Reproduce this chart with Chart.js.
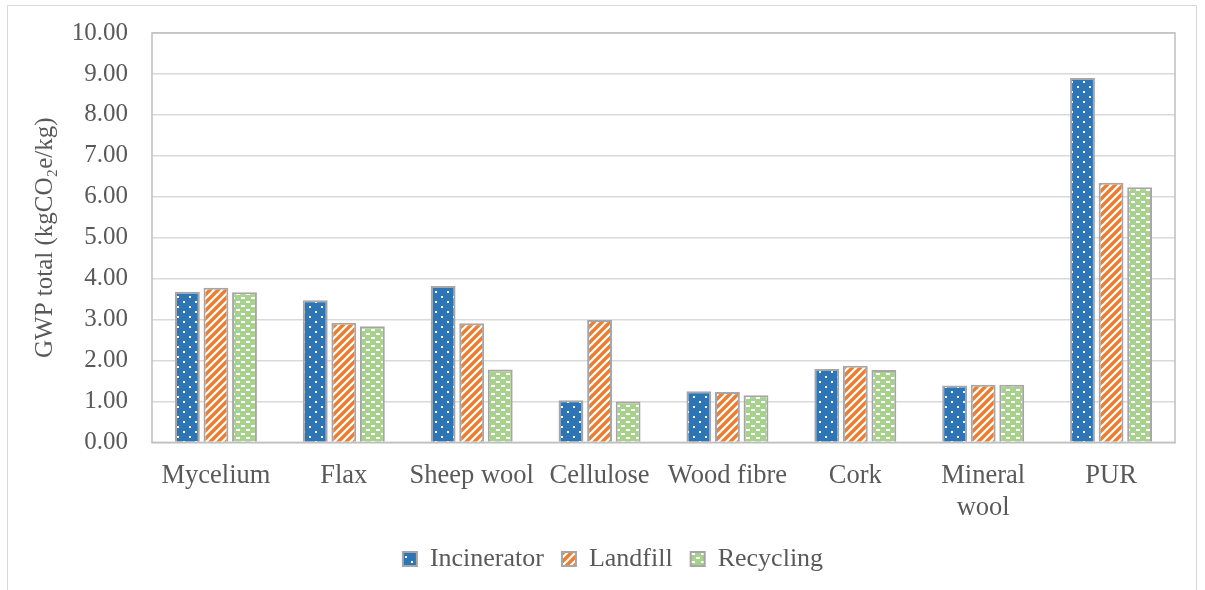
<!DOCTYPE html>
<html>
<head>
<meta charset="utf-8">
<script src="https://cdn.jsdelivr.net/npm/chart.js@4"></script>
<style>
  html, body { margin: 0; padding: 0; background: #fff; }
  #wrap { position: relative; width: 1205px; height: 590px; overflow: hidden; }
  #frame { position: absolute; left: 7px; top: 5px; width: 1190px; height: 620px; border: 1px solid #d9d9d9; box-sizing: border-box; }
  canvas { position: absolute; left: 0; top: 0; }
</style>
</head>
<body>
<div id="wrap">
  <div id="frame"></div>
  <canvas id="chart" width="1205" height="590"></canvas>
</div>
<script>
// data
const materials = ['Mycelium', 'Flax', 'Sheep wool', 'Cellulose', 'Wood fibre', 'Cork', ['Mineral', 'wool'], 'PUR'];
const incinerator = [3.68, 3.47, 3.82, 1.03, 1.25, 1.79, 1.39, 8.90];
const landfill = [3.78, 2.92, 2.91, 2.99, 1.23, 1.87, 1.41, 6.34];
const recycling = [3.67, 2.84, 1.78, 1.00, 1.15, 1.77, 1.41, 6.23];
const yTicks = [0, 1, 2, 3, 4, 5, 6, 7, 8, 9, 10];

const FONT = "'Liberation Serif', 'Times New Roman', serif";
const TEXT = '#595959';
Chart.defaults.font.family = FONT;
Chart.defaults.font.size = 25;
Chart.defaults.color = TEXT;

// fill patterns like the Excel ones
function makePattern(w, h, draw) {
  const c = document.createElement('canvas');
  c.width = w; c.height = h;
  const g = c.getContext('2d');
  draw(g);
  return g.createPattern(c, 'repeat');
}
const ctx = document.getElementById('chart').getContext('2d');

const dots = makePattern(12, 10, g => {
  g.fillStyle = '#2e75b6'; g.fillRect(0, 0, 12, 10);
  g.fillStyle = '#fff';
  g.fillRect(3, 1, 2, 2);
  g.fillRect(9, 6, 2, 2);
});
const stripes = makePattern(8, 8, g => {
  g.fillStyle = '#ed7d31'; g.fillRect(0, 0, 8, 8);
  g.strokeStyle = '#fff'; g.lineWidth = 2.2;
  g.beginPath();
  g.moveTo(-2, 2); g.lineTo(2, -2);
  g.moveTo(-2, 10); g.lineTo(10, -2);
  g.moveTo(6, 10); g.lineTo(10, 6);
  g.stroke();
});
const dashes = makePattern(10, 8, g => {
  g.fillStyle = '#a9d18e'; g.fillRect(0, 0, 10, 8);
  g.fillStyle = '#fff';
  g.fillRect(1, 1, 4, 2);
  g.fillRect(6, 5, 4, 2);
});

// border round the plot area
const plotBorder = {
  id: 'plotBorder',
  afterDraw(chart) {
    const a = chart.chartArea, c = chart.ctx;
    c.save();
    c.strokeStyle = '#bfbfbf';
    c.lineWidth = 1.5;
    c.strokeRect(a.left, a.top, a.right - a.left, a.bottom - a.top);
    c.restore();
  }
};

const barStyle = { borderColor: '#a6a6a6', borderWidth: 2, categoryPercentage: 0.67, barPercentage: 0.87 };

new Chart(ctx, {
  type: 'bar',
  data: {
    labels: materials,
    datasets: [
      { label: 'Incinerator', data: incinerator, backgroundColor: dots, ...barStyle },
      { label: 'Landfill', data: landfill, backgroundColor: stripes, ...barStyle },
      { label: 'Recycling', data: recycling, backgroundColor: dashes, ...barStyle }
    ]
  },
  options: {
    responsive: false,
    animation: false,
    layout: { padding: { left: 51, right: 30, top: 33, bottom: 8 } },
    plugins: {
      tooltip: { enabled: false },
      legend: {
        position: 'bottom',
        labels: {
          font: { family: FONT, size: 26 },
          color: TEXT,
          boxWidth: 14,
          boxHeight: 14,
          padding: 18
        }
      }
    },
    scales: {
      x: {
        afterFit(scale) { scale.height -= 6; },
        grid: { display: false },
        border: { color: '#d9d9d9', width: 1.5 },
        ticks: { font: { family: FONT, size: 26.5 }, color: TEXT, padding: 10, maxRotation: 0, autoSkip: false }
      },
      y: {
        min: 0,
        max: 10,
        afterFit(scale) {
          scale.width = 101;
          scale.paddingTop = 15;
          scale.paddingBottom = 15;
        },
        afterBuildTicks(scale) { scale.ticks = yTicks.map(v => ({ value: v })); },
        grid: { color: '#d9d9d9', lineWidth: 1.5, drawTicks: false },
        border: { display: false },
        ticks: {
          font: { family: FONT, size: 25 },
          color: TEXT,
          padding: 24,
          callback: v => v.toFixed(2)
        },
        title: {
          display: true,
          text: 'GWP total (kgCO\u2082e/kg)',
          font: { family: FONT, size: 25 },
          color: TEXT,
          padding: { top: -21, bottom: 0 }
        }
      }
    }
  },
  plugins: [plotBorder]
});
</script>
</body>
</html>
